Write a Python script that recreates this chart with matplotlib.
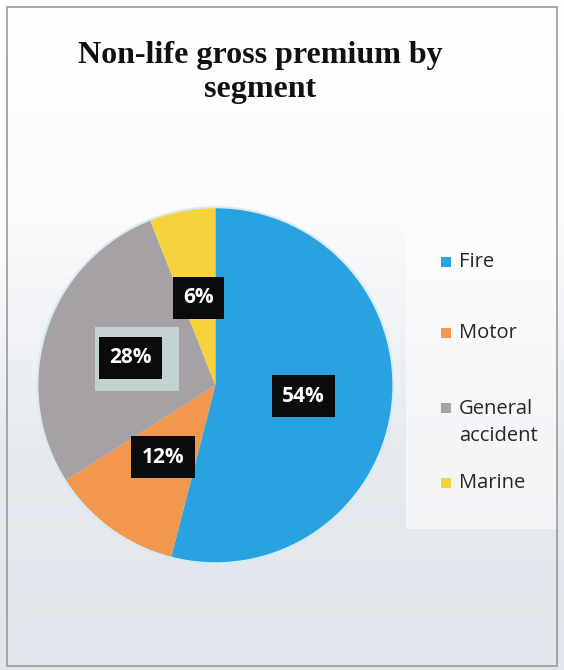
import matplotlib.pyplot as plt
from matplotlib.patches import Rectangle, Circle
from matplotlib.colors import LinearSegmentedColormap
import numpy as np

# Segment shares (percent)
segments = ['Fire', 'Motor', 'General\naccident', 'Marine']
shares = [54, 12, 28, 6]
colors = ['#29a2e2', '#f2984e', '#a5a1a5', '#f6d33c']

fig = plt.figure(figsize=(5.64, 6.70), dpi=100)

# Background: white at the top fading to a pale blue-grey
bg = fig.add_axes([0, 0, 1, 1], zorder=0)
grad = np.linspace(0, 1, 256).reshape(-1, 1)
cmap = LinearSegmentedColormap.from_list('bg', ['#e2e6ec', '#e6eaef', '#fbfbfc', '#ffffff'])
bg.imshow(grad, aspect='auto', cmap=cmap, extent=[0, 1, 0, 1], origin='lower')
bg.add_patch(Rectangle((0.72, 0.21), 0.27, 0.46, facecolor='white', alpha=0.55, lw=0))
bg.add_patch(Rectangle((0.012, 0.006), 0.976, 0.984, fill=False, edgecolor='#9a9a9a', lw=1.2))
bg.set_xlim(0, 1)
bg.set_ylim(0, 1)
bg.axis('off')

# Title
fig.text(0.461, 0.892, 'Non-life gross premium by\nsegment', ha='center', va='center',
         fontsize=23, fontweight='bold', family='Liberation Serif', color='#111111',
         linespacing=1.2)

# Pie
ax = fig.add_axes([0.0594, 0.154, 0.645, 0.542], zorder=1)
wedges, texts, autotexts = ax.pie(shares, colors=colors, startangle=90, counterclock=False,
                                  autopct='%d%%', pctdistance=0.5,
                                  wedgeprops=dict(linewidth=0),
                                  textprops=dict(color='white', fontsize=15, fontweight='bold',
                                                 family='Open Sans'))
ax.add_patch(Circle((0, 0), 1.0, fill=False, edgecolor='#d6eaf4', lw=1.5))
for t in autotexts:
    t.set_bbox(dict(boxstyle='square,pad=0.5', facecolor='#0b0b0b', edgecolor='none'))
    t.set_zorder(5)

# pale halo behind the General accident label
gx, gy = autotexts[2].get_position()
ax.add_patch(Rectangle((gx - 0.2, gy - 0.185), 0.47, 0.355, facecolor='#c9dcdd',
                       edgecolor='none', alpha=0.85, zorder=4))
ax.set_xlim(-1.02, 1.02)
ax.set_ylim(-1.02, 1.02)
ax.set_aspect('equal')

# Legend (handle sits level with the first line of each label)
handle_y = [0.609, 0.503, 0.391, 0.279]
for lab, col, y in zip(segments, colors, handle_y):
    bg.add_patch(Rectangle((0.782, y - 0.008), 0.018, 0.0155, facecolor=col,
                           edgecolor='none', zorder=3))
    n = lab.count('\n')
    fig.text(0.814, y - n * 0.0215, lab, ha='left', va='center',
             fontsize=14.5, family='Open Sans', color='#262626', linespacing=1.5)

fig.savefig('out.png', dpi=100)
